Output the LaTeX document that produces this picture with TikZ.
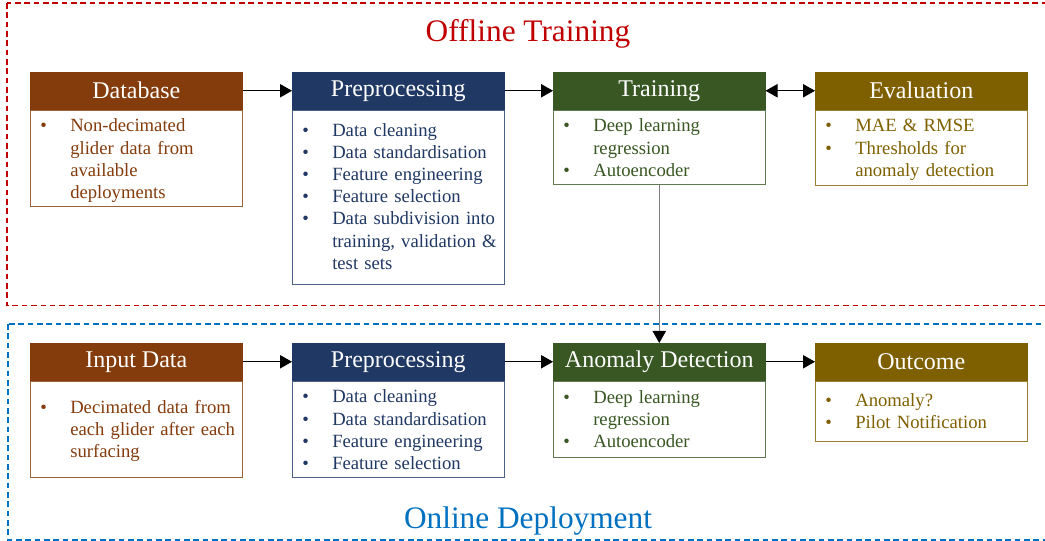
\documentclass[tikz,border=0pt]{standalone}
\usepackage{fontspec}
\setmainfont{Liberation Serif}
\usetikzlibrary{arrows.meta}
\definecolor{brownc}{HTML}{843C0C}
\definecolor{bluec}{HTML}{203864}
\definecolor{greenc}{HTML}{385723}
\definecolor{goldc}{HTML}{7F6000}
\definecolor{redd}{HTML}{C00000}
\definecolor{blued}{HTML}{0070C0}
\newenvironment{blist}{\begin{list}{\textbullet}{\setlength\leftmargin{30pt}\setlength\labelwidth{22pt}\setlength\labelsep{8pt}\setlength\itemsep{0pt}\setlength\topsep{0pt}\setlength\parsep{0pt}\setlength\partopsep{0pt}\setlength\itemindent{0pt}\setlength\rightmargin{0pt}\renewcommand\makelabel[1]{\hspace{7.5pt}##1\hfil}}}{\end{list}}
\newcommand\lift[1]{\par\kern#1\hrule height0pt\relax}
\tikzset{
  hdr/.style={draw=#1, fill=#1, text=white, minimum width=159pt, minimum height=27.75pt,
    anchor=north west, inner sep=0pt, font=\fontsize{18}{20}\selectfont},
  bdy/.style={draw=#1!80, fill=white, text=#1, minimum width=159pt, text width=159pt,
    anchor=north west, inner xsep=0pt, inner ysep=0pt,
    font=\fontsize{14}{16.6}\selectfont},
  frame/.style={draw=#1, line width=1.1pt, dash pattern=on 4.2pt off 2.8pt},
  ttl/.style={text=#1, font=\fontsize{23.5}{26}\selectfont},
  arr/.style={line width=0.75pt, -{Triangle[length=9pt,width=10pt]}},
  arrb/.style={line width=0.75pt, {Triangle[length=9pt,width=10pt]}-{Triangle[length=9pt,width=10pt]}},
}
\begin{document}
\begin{tikzpicture}[x=0.75pt,y=-0.75pt]
\useasboundingbox (0,0) rectangle (1045,541);
% frames
\draw[frame=redd] (7,3) rectangle (1060,305.5);
\draw[frame=blued] (8,324) rectangle (1060,540);
\node[ttl=redd] (t1) at (528,34) {Offline Training};
\node[ttl=blued] (t2) at (528,521) {Online Deployment};
% top row
\node[hdr=brownc] (dbh) at (30,72) {Database};
\node[bdy=brownc, minimum height=72pt] (dbb) at (dbh.south west) {\begin{blist}\item Non-decimated\newline glider data from\newline available\newline deployments\end{blist}\lift{3pt}};
\node[hdr=bluec] (pph) at (292,72) {Preprocessing};
\node[bdy=bluec, minimum height=130.5pt] (ppb) at (pph.south west) {\begin{blist}\item Data cleaning\item Data standardisation\item Feature engineering\item Feature selection\item Data subdivision into\newline training, validation \&\newline test sets\end{blist}\lift{7.5pt}};
\node[hdr=greenc] (trh) at (553,72) {Training};
\node[bdy=greenc, minimum height=55.5pt] (trb) at (trh.south west) {\begin{blist}\item Deep learning\newline regression\item Autoencoder\end{blist}\lift{6pt}};
\node[hdr=goldc] (evh) at (815,72) {Evaluation};
\node[bdy=goldc, minimum height=56.25pt] (evb) at (evh.south west) {\begin{blist}\item MAE \& RMSE\item Thresholds for\newline anomaly detection\end{blist}\lift{3.75pt}};
% bottom row
\node[hdr=brownc] (inh) at (30,343) {Input Data};
\node[bdy=brownc, minimum height=72pt] (inb) at (inh.south west) {\begin{blist}\item Decimated data from\newline each glider after each\newline surfacing\end{blist}\lift{3pt}};
\node[hdr=bluec] (p2h) at (292,343) {Preprocessing};
\node[bdy=bluec, minimum height=71.25pt] (p2b) at (p2h.south west) {\begin{blist}\item Data cleaning\item Data standardisation\item Feature engineering\item Feature selection\end{blist}\lift{6pt}};
\node[hdr=greenc] (adh) at (553,343) {Anomaly Detection};
\node[bdy=greenc, minimum height=57pt] (adb) at (adh.south west) {\begin{blist}\item Deep learning\newline regression\item Autoencoder\end{blist}\lift{6pt}};
\node[hdr=goldc] (och) at (815,343) {Outcome};
\node[bdy=goldc, minimum height=45pt] (ocb) at (och.south west) {\begin{blist}\item Anomaly?\item Pilot Notification\end{blist}\lift{6pt}};
% connectors
\draw[arr] (dbh.east) -- (pph.west);
\draw[arr] (pph.east) -- (trh.west);
\draw[arrb] (trh.east) -- (evh.west);
\draw[arr] (inh.east) -- (p2h.west);
\draw[arr] (p2h.east) -- (adh.west);
\draw[arr] (adh.east) -- (och.west);
\draw[line width=0.75pt, draw=gray, -{Triangle[length=9pt,width=10pt,color=black]}] (trb.south) -- (adh.north);
\end{tikzpicture}
\end{document}
